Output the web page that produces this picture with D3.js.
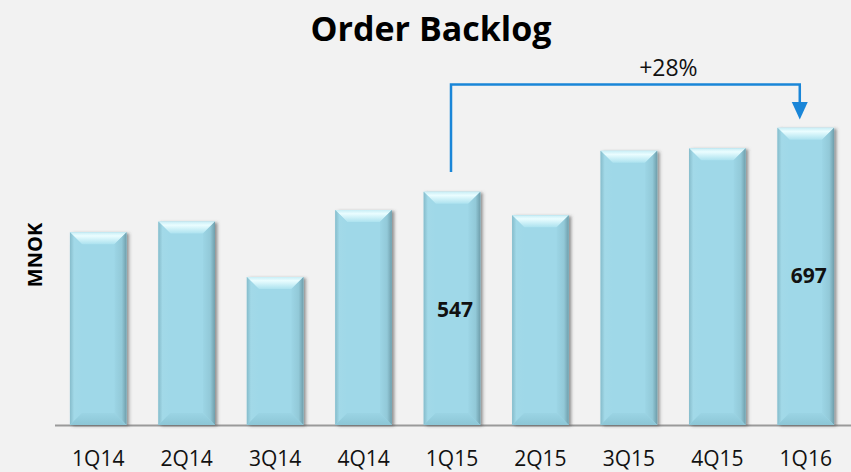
<!DOCTYPE html>
<html><head><meta charset="utf-8">
<script src="https://cdn.jsdelivr.net/npm/d3@7/dist/d3.min.js"></script>
<style>html,body{margin:0;padding:0;background:#f2f2f2;}svg{display:block;}</style>
</head><body>
<script>
const categories = ["1Q14","2Q14","3Q14","4Q14","1Q15","2Q15","3Q15","4Q15","1Q16"];
const values = [452, 477, 347, 504, 547, 492, 643, 649, 697];
const valueLabels = [{cat:"1Q15", text:"547"}, {cat:"1Q16", text:"697"}];
const growthLabel = "+28%";
const titleText = "Order Backlog";
const yAxisLabel = "MNOK";

const W = 851, H = 472;
const svg = d3.select("body").append("svg").attr("width", W).attr("height", H);
svg.append("rect").attr("width", W).attr("height", H).attr("fill", "#f2f2f2");

const defs = svg.append("defs");
const f = defs.append("filter").attr("id","sh").attr("x","-20%").attr("y","-20%").attr("width","150%").attr("height","150%");
f.append("feDropShadow").attr("dx",2.5).attr("dy",1).attr("stdDeviation",1.6).attr("flood-color","#444").attr("flood-opacity",0.55);
const gTop = defs.append("linearGradient").attr("id","gt").attr("x1",0).attr("y1",0).attr("x2",0).attr("y2",1);
gTop.append("stop").attr("offset",0).attr("stop-color","#c9eef6");
gTop.append("stop").attr("offset",0.3).attr("stop-color","#eafdff");
gTop.append("stop").attr("offset",1).attr("stop-color","#ace2ef");
const gBot = defs.append("linearGradient").attr("id","gb").attr("x1",0).attr("y1",0).attr("x2",0).attr("y2",1);
gBot.append("stop").attr("offset",0).attr("stop-color","#9bd4e4");
gBot.append("stop").attr("offset",1).attr("stop-color","#8cc6d6");
const gL = defs.append("linearGradient").attr("id","gl").attr("x1",0).attr("y1",0).attr("x2",1).attr("y2",0);
gL.append("stop").attr("offset",0).attr("stop-color","#86bccb");
gL.append("stop").attr("offset",0.35).attr("stop-color","#a2d9e8");
gL.append("stop").attr("offset",1).attr("stop-color","#9fd8e8");
const gR = defs.append("linearGradient").attr("id","gr").attr("x1",0).attr("y1",0).attr("x2",1).attr("y2",0);
gR.append("stop").attr("offset",0).attr("stop-color","#9cd5e5");
gR.append("stop").attr("offset",0.6).attr("stop-color","#92c9d8");
gR.append("stop").attr("offset",1).attr("stop-color","#6f9eab");

const x = d3.scaleBand().domain(categories).range([54, 850]).paddingInner(0.36).paddingOuter(0.18);
const y = d3.scaleLinear().domain([0, 700]).range([425, 126.5]);

// baseline
svg.append("line").attr("x1", 55).attr("x2", 851).attr("y1", y(0)+0.5).attr("y2", y(0)+0.5)
  .attr("stroke", "#9a9a9a").attr("stroke-width", 2);

const data = categories.map((c,i)=>({c, v: values[i]}));
const bw = x.bandwidth();
const bev = 12, sb = 12;
const bars = svg.append("g").selectAll("g").data(data).join("g");
bars.append("rect").attr("x", d=>x(d.c)).attr("y", d=>y(d.v)).attr("width", bw)
  .attr("height", d=>y(0)-y(d.v)).attr("fill","#9fd8e8").attr("filter","url(#sh)");
bars.append("polygon").attr("fill","url(#gt)").attr("points", d=>{
  const x0=x(d.c), x1=x0+bw, t=y(d.v);
  return [[x0,t],[x1,t],[x1-sb,t+bev],[x0+sb,t+bev]].join(" ");
});
bars.append("polygon").attr("fill","url(#gl)").attr("points", d=>{
  const x0=x(d.c), t=y(d.v), b=y(0);
  return [[x0,t],[x0+sb,t+bev],[x0+sb,b-bev],[x0,b]].join(" ");
});
bars.append("polygon").attr("fill","url(#gr)").attr("points", d=>{
  const x1=x(d.c)+bw, t=y(d.v), b=y(0);
  return [[x1,t],[x1,b],[x1-sb,b-bev],[x1-sb,t+bev]].join(" ");
});
bars.append("polygon").attr("fill","url(#gb)").attr("points", d=>{
  const x0=x(d.c), x1=x0+bw, b=y(0);
  return [[x0,b],[x0+sb,b-bev],[x1-sb,b-bev],[x1,b]].join(" ");
});

// x axis labels
const xAxis = d3.axisBottom(x).tickSize(0).tickPadding(0);
const ax = svg.append("g").attr("transform", `translate(0,${y(0)})`).call(xAxis);
ax.select(".domain").remove();
ax.selectAll("text").attr("dy", null).attr("y", 41)
  .attr("font-family","'Open Sans', sans-serif").attr("font-size", 21).attr("fill","#111");

// value labels
const labelDy = {"1Q15": -108, "1Q16": -142};
svg.append("g").selectAll("text").data(valueLabels).join("text")
  .attr("x", d=>x(d.cat)+bw/2 + 3).attr("y", d=>y(0)+labelDy[d.cat])
  .attr("text-anchor","middle").attr("font-family","'Open Sans', sans-serif")
  .attr("font-weight","bold").attr("font-size", 21).attr("fill","#111").text(d=>d.text);

// title
svg.append("text").attr("x", 431).attr("y", 41).attr("text-anchor","middle")
  .attr("font-family","'Open Sans', sans-serif").attr("font-weight","bold").attr("font-size", 34)
  .attr("fill","#000").text(titleText);

// y label
svg.append("text").attr("transform","translate(42,255) rotate(-90)").attr("text-anchor","middle")
  .attr("font-family","'Open Sans', sans-serif").attr("font-weight","bold").attr("font-size", 20)
  .attr("fill","#000").text(yAxisLabel);

// growth bracket
const xa = x("1Q15")+bw/2 - 1, xb = x("1Q16")+bw/2 - 6, yTop = 84.5;
svg.append("path").attr("d", `M${xa},${172} L${xa},${yTop} L${xb},${yTop} L${xb},${104}`)
  .attr("fill","none").attr("stroke","#1a86d8").attr("stroke-width", 2.5);
svg.append("polygon").attr("points", [[xb-8,102],[xb+8,102],[xb,119.5]].join(" ")).attr("fill","#1a86d8");
svg.append("text").attr("x", (xa+xb)/2+43).attr("y", 76).attr("text-anchor","middle")
  .attr("font-family","'Open Sans', sans-serif").attr("font-size", 23).attr("fill","#111").text(growthLabel);
</script>
</body></html>
